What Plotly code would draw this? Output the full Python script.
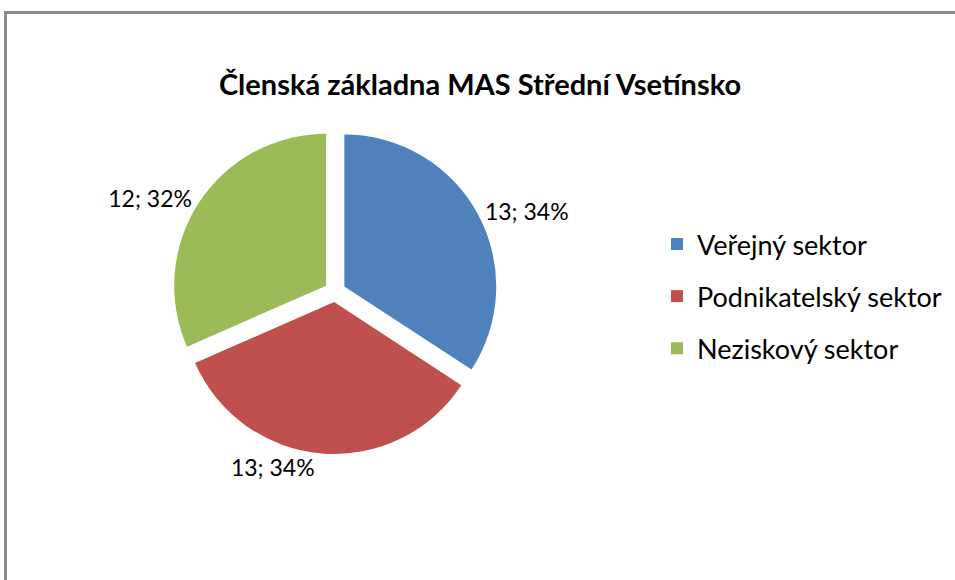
import plotly.graph_objects as go

categories = ["Veřejný sektor", "Podnikatelský sektor", "Neziskový sektor"]
values = [13, 13, 12]
colors = ["#4F81BD", "#C0504D", "#9BBB59"]
title_text = "Členská základna MAS Střední Vsetínsko"

FONT = "Lato, 'Open Sans', sans-serif"
W, H = 955, 580

fig = go.Figure()
fig.add_trace(go.Pie(
    labels=categories,
    values=values,
    sort=False,
    direction="clockwise",
    rotation=0,
    pull=[0.07, 0.07, 0.07],
    marker=dict(colors=colors, line=dict(color="white", width=0)),
    texttemplate="%{value}; %{percent:.0%}",
    textposition="outside",
    textfont=dict(family=FONT, size=23, color="black"),
    domain=dict(x=[165/W, 505/W], y=[1-454/H, 1-129/H]),
    showlegend=False,
    hoverinfo="label+value+percent",
))

for c, col in zip(categories, colors):
    fig.add_trace(go.Scatter(
        x=[None], y=[None], mode="markers", name=c, legendgroup=c,
        marker=dict(symbol="square", size=17, color=col),
    ))

fig.update_layout(
    width=W, height=H,
    margin=dict(l=0, r=0, t=0, b=0),
    paper_bgcolor="white", plot_bgcolor="white",
    title=dict(text="<b>" + title_text + "</b>", x=480/W, xanchor="center",
               y=1-85/H, yanchor="middle",
               font=dict(family=FONT, size=29, color="black")),
    xaxis=dict(visible=False), yaxis=dict(visible=False),
    legend=dict(x=657/W, y=1-220/H, xanchor="left", yanchor="top",
                font=dict(family=FONT, size=27, color="black"),
                tracegroupgap=14, itemsizing="constant", itemwidth=30,
                bgcolor="rgba(0,0,0,0)"),
    shapes=[
        dict(type="line", xref="paper", yref="paper",
             x0=5.5/W, x1=5.5/W, y0=0, y1=1-11/H,
             line=dict(color="#8c8c8c", width=3)),
        dict(type="line", xref="paper", yref="paper",
             x0=4/W, x1=1, y0=1-12.5/H, y1=1-12.5/H,
             line=dict(color="#8c8c8c", width=3)),
    ],
)

fig.write_html("out.html", config={"displayModeBar": False},
               post_script="document.body.style.margin='0';")
